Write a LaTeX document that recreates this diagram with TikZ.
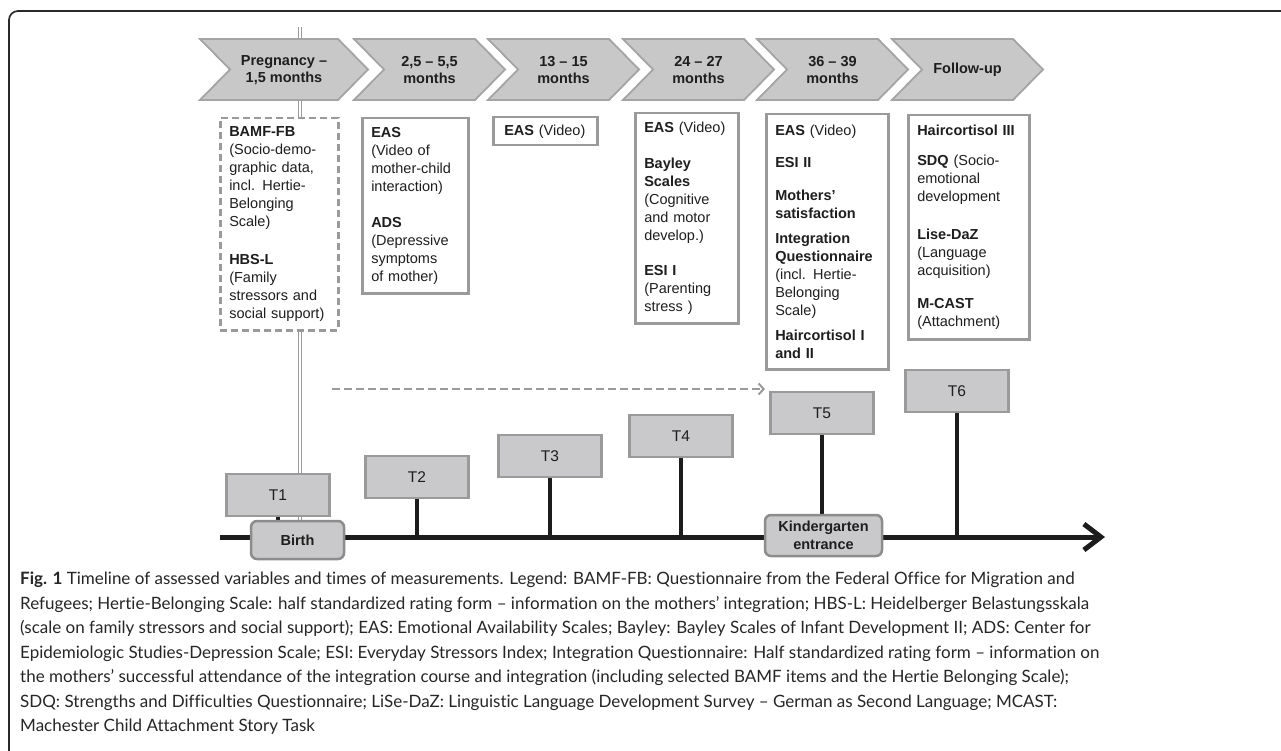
\documentclass[tikz,border=0pt]{standalone}
\usepackage{fontspec}
\setmainfont{Liberation Sans}
\newfontfamily\capfont[Ligatures={NoCommon}]{Lato}
\usetikzlibrary{arrows.meta}
\definecolor{chevfill}{HTML}{C8C8C8}
\definecolor{chevline}{HTML}{A4A4A4}
\definecolor{boxline}{HTML}{9A9A9A}
\definecolor{tfill}{HTML}{C9C9CB}
\definecolor{evline}{HTML}{8C8C8C}
\definecolor{axiscol}{HTML}{1C1C1C}
\definecolor{txt}{HTML}{1E1E1E}
\definecolor{captext}{HTML}{262626}
\definecolor{framecol}{HTML}{2A2A2A}
\newcommand\mychev[4]{%
  \path[chev] (#1,39) -- ({#1+#2-30},39) -- ({#1+#2},69.5) -- ({#1+#2-30},100) -- (#1,100) -- ({#1+30},69.5) -- cycle;
  \node[chevtext] (#3) at ({#1+#2/2},70) {#4};}
\begin{document}
\begin{tikzpicture}[x=1pt,y=-1pt,
  chev/.style={fill=chevfill, draw=chevline, line width=1.8pt, line join=miter},
  chevtext/.style={align=center, text=txt, font=\bfseries\fontsize{14.5}{16.5}\selectfont, inner sep=0pt},
  infobox/.style={draw=boxline, line width=2.5pt, fill=white, inner xsep=9pt, inner ysep=0pt, align=left, anchor=north west, text=txt, font=\fontsize{14.5}{18}\selectfont},
  dashbox/.style={infobox, dash pattern=on 7pt off 4pt},
  tbox/.style={draw=boxline, fill=tfill, line width=2.5pt, minimum width=103pt, minimum height=42pt, inner sep=0pt, text=txt, font=\fontsize{15.5}{18}\selectfont},
  eventbox/.style={draw=evline, fill=tfill, line width=2.5pt, rounded corners=6pt, inner sep=0pt, align=center, text=txt, font=\bfseries\fontsize{14.5}{17.5}\selectfont},
  stem/.style={draw=axiscol, line width=3.5pt},
  axisline/.style={draw=axiscol, line width=5pt, -{Straight Barb[length=17pt,width=26pt,line width=5pt]}},
  dasharrow/.style={draw=boxline, line width=2.2pt, dash pattern=on 8pt off 4pt, -{Straight Barb[length=5pt,width=11pt,line width=2pt]}},
  dblline/.style={draw=boxline, line width=1pt, double=white, double distance=1.8pt},
  framestyle/.style={draw=framecol, line width=1.7pt, rounded corners=9pt},
]
\useasboundingbox (0,0) rectangle (1281,751);
\fill[white] (0,0) rectangle (1281,751);
% frame
\draw[framestyle] (1295,11) -- (9,11) -- (9,765);
% double vertical line
\coordinate (dtop) at (300,27);
\coordinate (dbot) at (300,530);
\draw[dblline] (dtop) -- (dbot);
% chevrons
\mychev{200}{168}{c1}{Pregnancy –\\1,5 months}
\mychev{354}{151}{c2}{2,5 – 5,5\\months}
\mychev{488}{151}{c3}{13 – 15\\months}
\mychev{623}{151}{c4}{24 – 27\\months}
\mychev{757}{151}{c5}{36 – 39\\months}
\mychev{892}{151}{c6}{Follow-up}
% info boxes
\node[dashbox, text width=100pt, minimum height=212pt] (b1) at (219,117)
 {\textbf{BAMF-FB}\\(Socio-demo-\\graphic data,\\incl. Hertie-\\Belonging\\Scale)\\[19.5pt]\textbf{HBS-L}\\(Family\\stressors and\\social support)};
\node[infobox, text width=88pt, minimum height=175pt] (b2) at (361,117)
 {\textbf{EAS}\\(Video of\\mother-child\\interaction)\\[18pt]\textbf{ADS}\\(Depressive\\symptoms\\of mother)};
\node[infobox, inner xsep=11pt, text width=82pt, minimum height=28pt] (b3) at (492,116)
 {\textbf{EAS} (Video)};
\node[infobox, text width=85pt, minimum height=210pt] (b4) at (634,112)
 {\textbf{EAS} (Video)\\[17.5pt]\textbf{Bayley}\\\textbf{Scales}\\(Cognitive\\and motor\\develop.)\\[17.5pt]\textbf{ESI I}\\(Parenting\\stress )};
\node[infobox, text width=104pt, minimum height=255pt] (b5) at (765,113)
 {\textbf{EAS} (Video)\\[14pt]\textbf{ESI II}\\[15pt]\textbf{Mothers’}\\\textbf{satisfaction}\\[7.5pt]\textbf{Integration}\\\textbf{Questionnaire}\\(incl. Hertie-\\Belonging\\Scale)\\[7pt]\textbf{Haircortisol I}\\\textbf{and II}};
\node[infobox, text width=103pt, minimum height=224pt] (b6) at (907,114)
 {\textbf{Haircortisol III}\\[12pt]\textbf{SDQ} (Socio-\\emotional\\development\\[20pt]\textbf{Lise-DaZ}\\(Language\\acquisition)\\[15pt]\textbf{M-CAST}\\(Attachment)};
% dashed arrow
\coordinate (dstart) at (332,389);
\coordinate (dend) at (765,389);
\draw[dasharrow] (dstart) -- (dend);
% axis
\coordinate (ax0) at (219.5,537);
\coordinate (ax1) at (1105,537);
\draw[axisline] (ax0) -- (ax1);
% time boxes
\node[tbox] (t1) at (278,495) {T1};
\node[tbox] (t2) at (417,477) {T2};
\node[tbox] (t3) at (550,456) {T3};
\node[tbox] (t4) at (681,436) {T4};
\node[tbox] (t5) at (822,413) {T5};
\node[tbox] (t6) at (957,391) {T6};
\foreach \t in {t1,t2,t3,t4,t5,t6}
  \draw[stem] (\t.south) -- (\t.south |- ax0);
% events
\node[eventbox, minimum width=93pt, minimum height=38pt] (birth) at (297.5,540) {Birth};
\node[eventbox, minimum width=117pt, minimum height=41pt] (kg) at (823.5,535.5) {Kindergarten\\entrance};
% caption
\node[anchor=north west, inner sep=0pt, align=left, text=captext, font=\capfont\fontsize{17}{24.5}\selectfont] (caption) at (20,572)
 {\textbf{Fig. 1} Timeline of assessed variables and times of measurements. Legend: BAMF-FB: Questionnaire from the Federal Office for Migration and\\
 Refugees; Hertie-Belonging Scale: half standardized rating form – information on the mothers’ integration; HBS-L: Heidelberger Belastungsskala\\
 (scale on family stressors and social support); EAS: Emotional Availability Scales; Bayley: Bayley Scales of Infant Development II; ADS: Center for\\
 Epidemiologic Studies-Depression Scale; ESI: Everyday Stressors Index; Integration Questionnaire: Half standardized rating form – information on\\
 the mothers’ successful attendance of the integration course and integration (including selected BAMF items and the Hertie Belonging Scale);\\
 SDQ: Strengths and Difficulties Questionnaire; LiSe-DaZ: Linguistic Language Development Survey – German as Second Language; MCAST:\\
 Machester Child Attachment Story Task};
\end{tikzpicture}
\end{document}
